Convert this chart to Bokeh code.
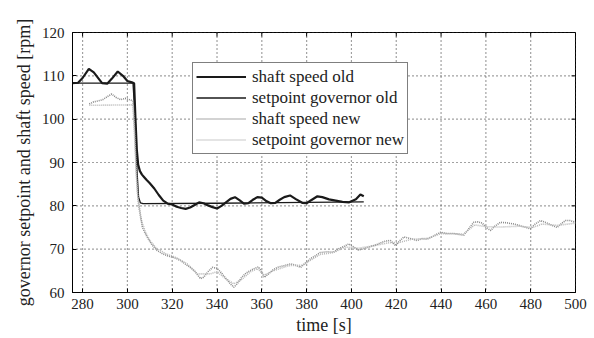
from bokeh.plotting import figure
from bokeh.models import Range1d, FixedTicker, Legend, LegendItem, Span
from bokeh.embed import file_html
from bokeh.resources import INLINE

# ---- data ----
shaft_old_t = [275.5, 278, 280, 282.8, 285, 288.7, 291, 293, 295.7, 298, 300, 302, 303, 303.6, 304.2,
               304.8, 305.6, 306.5, 307.5, 308.5, 310, 312, 314, 316, 318, 320, 322, 324, 326, 328,
               330, 332, 334, 336, 338, 340, 342, 344, 346, 348, 350, 352, 354, 356, 358, 360, 362,
               364, 366, 368, 370, 372.6, 375, 378, 380, 382, 384.8, 387, 390, 393, 396, 399, 402,
               404, 405.5]
shaft_old_v = [108.3, 108.4, 109.5, 111.6, 110.8, 108.3, 108.2, 109.3, 111.0, 110.0, 108.8, 108.5, 108.3,
               100.0, 93.0, 89.5, 88.0, 87.2, 86.6, 86.0, 85.2, 84.0, 82.5, 81.2, 80.5, 80.3, 79.8,
               79.5, 79.3, 79.6, 80.2, 80.8, 80.6, 80.1, 79.7, 79.4, 80.0, 80.8, 81.6, 82.0, 81.3,
               80.5, 80.6, 81.4, 82.0, 81.9, 81.1, 80.6, 80.7, 81.4, 82.0, 82.4, 81.6, 80.7, 80.6,
               81.3, 82.2, 82.0, 81.5, 81.2, 80.9, 80.8, 81.5, 82.6, 82.2]

setpoint_old_t = [275.5, 302.5, 303.5, 304.3, 305.0, 305.8, 307, 340, 380, 405.5]
setpoint_old_v = [108.3, 108.3, 100.0, 88.0, 82.0, 80.7, 80.5, 80.6, 80.8, 80.9]

shaft_new_t = [283, 285, 287, 289, 291, 293, 295, 297, 299, 301, 302.5, 303.3, 304, 304.7, 305.5,
               306.7, 308.8, 311, 313.3, 315.5, 317.8, 320, 322, 324, 326, 328, 330, 332.6, 334,
               336, 338, 340, 342, 344, 346, 347.5, 349, 351, 353, 355, 357, 358.5, 360, 361, 363,
               365, 367, 370, 372.8, 375, 377.3, 379.5, 381.7, 384, 386, 389, 392, 394.3, 396.5,
               398.8, 401, 403.2, 406, 408.5, 411, 413.7, 415.5, 417.4, 419.7, 421.5, 423.4, 426,
               429.3, 431.5, 433.8, 436.5, 439.8, 442.5, 445.8, 448, 450.1, 452.5, 454.6, 456.5,
               458.4, 460, 462.1, 464, 466.5, 469, 472.5, 476, 479.9, 482, 484.4, 487, 489.5,
               491.8, 493.5, 495.5, 497.5, 500]
shaft_new_v = [103.5, 104.0, 104.2, 104.5, 105.2, 105.8, 105.0, 104.5, 104.8, 104.5, 104.2, 97.0, 88.0,
               82.0, 79.0, 75.0, 72.8, 71.0, 69.7, 69.0, 68.5, 68.2, 67.8, 67.3, 66.5, 65.8, 65.0,
               63.2, 63.5, 64.8, 65.8, 65.6, 64.5, 63.2, 62.0, 61.2, 62.0, 63.5, 64.5, 65.1, 65.6,
               65.9, 64.8, 63.5, 64.3, 65.2, 65.8, 66.2, 66.6, 66.3, 65.8, 66.8, 67.8, 68.5, 69.2,
               69.4, 69.3, 70.1, 70.6, 71.2, 70.5, 69.8, 70.2, 70.6, 71.0, 71.6, 71.9, 72.0, 70.8,
               71.9, 72.8, 72.5, 72.0, 72.4, 72.3, 73.0, 73.9, 73.6, 73.6, 73.4, 73.2, 74.8, 76.2,
               76.3, 76.0, 75.1, 74.3, 75.3, 76.2, 76.1, 75.8, 75.3, 74.7, 75.8, 76.6, 76.1, 75.5,
               75.0, 75.8, 76.6, 76.6, 76.2]

setpoint_new_t = [283, 302.5, 303.3, 304.2, 305, 306, 308, 310, 313, 317, 322, 327, 331, 337, 340,
                  343, 347.5, 351, 355, 358, 361, 365, 372, 378, 382, 386, 392, 397, 403, 410, 417,
                  421, 427, 434, 440, 450, 455, 460, 466, 475, 481, 485, 492, 500]
setpoint_new_v = [103.2, 103.3, 95.0, 85.0, 80.0, 77.0, 74.0, 72.0, 70.2, 69.0, 68.0, 66.5, 64.3, 64.3,
                  64.8, 63.5, 62.0, 63.0, 64.8, 65.5, 64.0, 65.0, 66.2, 66.3, 67.5, 68.8, 69.2, 70.5,
                  70.2, 70.8, 71.5, 71.5, 72.3, 72.5, 73.6, 73.5, 75.6, 75.2, 75.1, 75.3, 75.0, 75.8,
                  75.5, 76.0]

labels = ["shaft speed old", "setpoint governor old", "shaft speed new", "setpoint governor new"]
x_ticks = [280, 300, 320, 340, 360, 380, 400, 420, 440, 460, 480, 500]
y_ticks = [60, 70, 80, 90, 100, 110, 120]

FONT = "Liberation Serif"
X0, X1, Y0, Y1 = 275.5, 500, 60, 120
W, H = 594, 338
BL, BR, BT, BB = 72, 19, 32, 46

p = figure(width=W, height=H, output_backend="svg", toolbar_location=None,
           x_range=Range1d(X0, X1), y_range=Range1d(Y0, Y1),
           min_border_left=BL, min_border_right=BR, min_border_top=BT, min_border_bottom=BB)
p.background_fill_color = "white"
p.border_fill_color = "white"
p.outline_line_color = "black"
p.outline_line_width = 1

# dotted grid drawn as spans at the tick positions
p.xgrid.visible = False
p.ygrid.visible = False
for t in x_ticks:
    p.add_layout(Span(location=t, dimension="height", line_color="#444444",
                      line_dash="1 3", line_width=1.2, level="underlay"))
for t in y_ticks:
    p.add_layout(Span(location=t, dimension="width", line_color="#444444",
                      line_dash="1 3", line_width=1.2, level="underlay"))

# mirrored inward tick marks on the top and right edges (4 px long)
tick_dx = (X1 - X0) / (W - BL - BR) * 4
tick_dy = (Y1 - Y0) / (H - BT - BB) * 4
p.segment(x0=x_ticks, y0=[Y1] * len(x_ticks), x1=x_ticks, y1=[Y1 - tick_dy] * len(x_ticks),
          line_color="black", line_width=1)
p.segment(x0=[X1] * len(y_ticks), y0=y_ticks, x1=[X1 - tick_dx] * len(y_ticks), y1=y_ticks,
          line_color="black", line_width=1)

r1 = p.line(shaft_old_t, shaft_old_v, line_color="#1a1a1a", line_width=2.2)
r2 = p.line(setpoint_old_t, setpoint_old_v, line_color="#1a1a1a", line_width=1.3)
r3 = p.line(shaft_new_t, shaft_new_v, line_color="#8a8a8a", line_width=1.6, line_dash="1 1")
r4 = p.line(setpoint_new_t, setpoint_new_v, line_color="#b8b8b8", line_width=1.6, line_dash="1 1")

for ax in (p.xaxis[0], p.yaxis[0]):
    ax.major_label_text_font = FONT
    ax.major_label_text_font_size = "15px"
    ax.major_label_text_color = "#222222"
    ax.axis_label_text_font = FONT
    ax.axis_label_text_font_size = "18px"
    ax.axis_label_text_font_style = "normal"
    ax.axis_label_text_color = "#222222"
    ax.major_tick_in = 4
    ax.major_tick_out = 0
    ax.minor_tick_in = 0
    ax.minor_tick_out = 0
    ax.axis_line_color = "black"
    ax.major_tick_line_color = "black"

p.xaxis[0].major_label_standoff = 6
p.xaxis[0].axis_label_standoff = 3
p.yaxis[0].major_label_standoff = 8
p.yaxis[0].axis_label_standoff = 5

p.xaxis[0].ticker = FixedTicker(ticks=x_ticks)
p.yaxis[0].ticker = FixedTicker(ticks=y_ticks)
p.xaxis[0].axis_label = "time [s]"
p.yaxis[0].axis_label = "governor setpoint and shaft speed [rpm]"

legend = Legend(items=[LegendItem(label=labels[0], renderers=[r1]),
                       LegendItem(label=labels[1], renderers=[r2]),
                       LegendItem(label=labels[2], renderers=[r3]),
                       LegendItem(label=labels[3], renderers=[r4])],
                location=(120, 138))
legend.label_text_font = FONT
legend.label_text_font_size = "17px"
legend.label_text_color = "#222222"
legend.label_height = 21
legend.glyph_height = 21
legend.glyph_width = 50
legend.spacing = 0
legend.padding = 3
legend.margin = 0
legend.label_standoff = 6
legend.border_line_color = "black"
legend.border_line_width = 1
legend.background_fill_color = "white"
legend.background_fill_alpha = 1.0
p.add_layout(legend, "center")

open("out.html", "w").write(file_html(p, INLINE))
